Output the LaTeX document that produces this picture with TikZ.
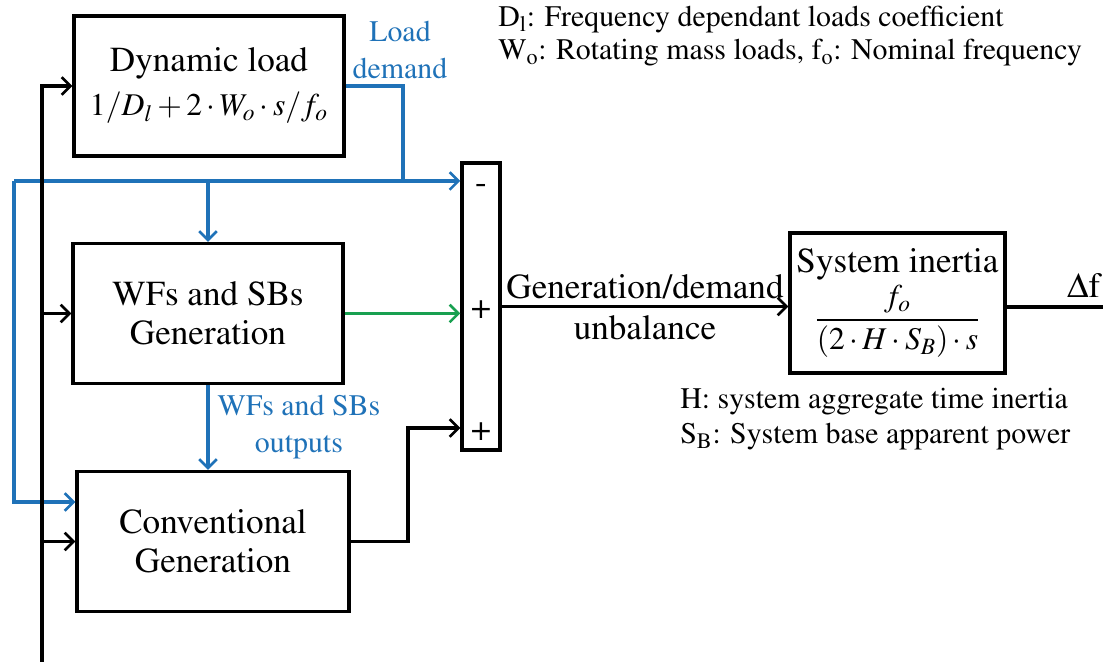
\documentclass[tikz,border=0pt]{standalone}
\usepackage[T1]{fontenc}
\usepackage{amsmath}
\usepackage{mathptmx}
\usetikzlibrary{positioning,arrows.meta,calc}
\definecolor{sigblue}{RGB}{31,114,184}
\definecolor{siggreen}{RGB}{24,160,80}

\begin{document}
\begin{tikzpicture}[x=0.02cm, y=-0.02cm,
    font=\fontsize{20}{22}\selectfont,
    blk/.style={draw, line width=2pt, minimum width=5.4cm,
      minimum height=2.8cm, align=center, inner sep=2pt},
    summer/.style={draw, line width=2pt, minimum width=0.76cm,
      minimum height=5.74cm, inner sep=0pt},
    note/.style={anchor=west, align=left, inner sep=0pt,
      font=\fontsize{17}{20}\selectfont},
    lbl/.style={align=center, text=sigblue, inner sep=0pt,
      font=\fontsize{17}{21}\selectfont},
    arr/.style={-{Straight Barb[length=5pt,width=10pt,line width=1.5pt]},
      line width=1.9pt},
    bl/.style={line width=1.9pt, sigblue},
    barr/.style={arr, sigblue},
    garr/.style={arr, siggreen}
]
\useasboundingbox (0,0) rectangle (1103,662);

% blocks
\node[blk] (dyn) at (209,86) {Dynamic load\\[3pt]%
  {\fontsize{18}{20}\selectfont$1/D_l+2\cdot W_o\cdot s/f_o$}};
\node[blk] (wf) at (208,313.5) {WFs and SBs\\Generation};
\node[blk, minimum width=5.44cm] (conv) at (213,541.5) {Conventional\\Generation};
\node[summer] (sum) at (481,306.5) {};
\node[blk, minimum width=4.3cm] (sys) at (897.5,303)
  {System inertia\\[2pt]{\fontsize{18}{20}\selectfont$\dfrac{f_o}{(2\cdot H\cdot S_B)\cdot s}$}};

% signs of the summing block
\node (sm) at (481,189) {-};
\node (sp1) at (481,310) {+};
\node (sp2) at (481,432) {+};

% bends of the signal lines
\coordinate (ld) at (403,181);
\coordinate (bc) at (14,181);
\coordinate (bd) at (14,502);
\coordinate (fb) at (42,662);
\coordinate (cc) at (408,428);
\coordinate (df) at (1103,307);

% load demand
\draw[bl] (dyn.east) -| (ld);
\draw[barr] (bc) -- (sum.west |- bc);
\draw[barr] (wf.north |- bc) -- (wf.north);
\draw[barr] (bc) -- (bd) -- (conv.west |- bd);
\node[lbl] (ldl) at (400,50) {Load\\demand};

% generation
\draw[barr] (wf.south) -- (wf.south |- conv.north)
  node[lbl, midway, right=4.5pt] {WFs and SBs\\outputs};
\draw[garr] (wf.east) -- (sum.west |- wf.east);
\draw[arr] (conv.east) -| (cc) -- (sum.west |- cc);

% frequency feedback
\draw[arr] (fb) |- (dyn.west);
\draw[arr] (fb |- wf.west) -- (wf.west);
\draw[arr] (fb |- conv.west) -- (conv.west);

% unbalance and system
\draw[arr] (sum.east) -- (sum.east -| sys.west)
  node[midway, above=0pt] {Generation/demand}
  node[midway, below=1pt] {unbalance};
\draw[line width=1.9pt] (sys.east |- df) -- (df)
  node[pos=0.8, above=1pt] {$\Delta$f};

% notes
\node[note] (n1) at (498,20) {D\textsubscript{l}: Frequency dependant loads coefficient};
\node[note] (n2) at (498,53) {W\textsubscript{o}: Rotating mass loads, f\textsubscript{o}: Nominal frequency};
\node[note] (n3) at (680,402) {H: system aggregate time inertia};
\node[note] (n4) at (680,437) {S\textsubscript{B}: System base apparent power};
\end{tikzpicture}
\end{document}
